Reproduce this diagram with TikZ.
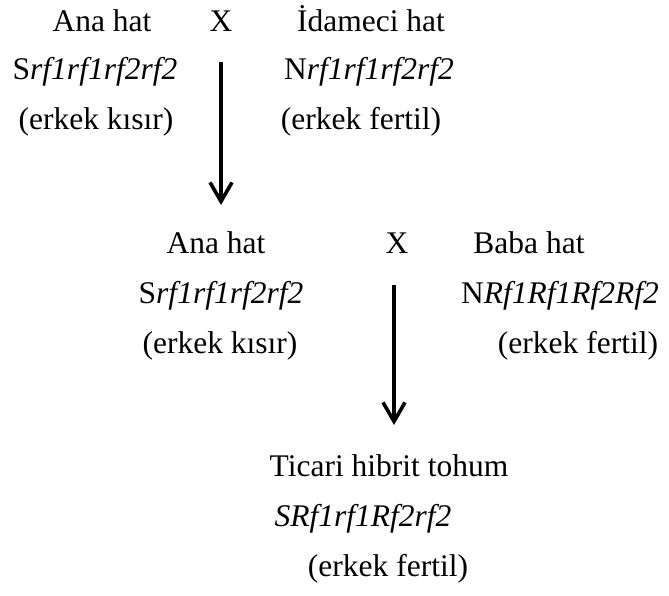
\documentclass[tikz,border=0pt]{standalone}
\usepackage{fontspec}
\setmainfont{Liberation Serif}
\usetikzlibrary{arrows.meta}
\begin{document}
\begin{tikzpicture}[x=1pt,y=-1pt,
  lbl/.style={anchor=base,inner sep=0pt,font=\fontsize{31.5}{34}\selectfont},
  arr/.style={line width=3.6pt,-{Straight Barb[length=19pt,width=22pt,line width=3.6pt]}}]
\useasboundingbox (0,0) rectangle (669,595);
% block 1
\node[lbl] (ana1) at (102,31) {Ana hat};
\node[lbl] (x1) at (221,31) {X};
\node[lbl] (ida) at (371,31) {İdameci hat};
\node[lbl] (g1) at (95,79) {S\textit{rf1rf1rf2rf2}};
\node[lbl] (g2) at (369,79) {N\textit{rf1rf1rf2rf2}};
\node[lbl] (k1) at (96,129) {(erkek kısır)};
\node[lbl] (f1) at (361,129) {(erkek fertil)};
\coordinate (a1s) at (221,62);
\coordinate (a1e) at (221,205);
\draw[arr] (a1s) -- (a1e);
% block 2
\node[lbl] (ana2) at (216,253) {Ana hat};
\node[lbl] (x2) at (397,253) {X};
\node[lbl] (baba) at (529,253) {Baba hat};
\node[lbl] (g3) at (221,303) {S\textit{rf1rf1rf2rf2}};
\node[lbl] (g4) at (560,303) {N\textit{Rf1Rf1Rf2Rf2}};
\node[lbl] (k2) at (220,353) {(erkek kısır)};
\node[lbl] (f2) at (578,353) {(erkek fertil)};
\coordinate (a2s) at (394,285);
\coordinate (a2e) at (394,425);
\draw[arr] (a2s) -- (a2e);
% block 3
\node[lbl] (tic) at (389,476) {Ticari hibrit tohum};
\node[lbl] (g5) at (363,526) {\textit{SRf1rf1Rf2rf2}};
\node[lbl] (f3) at (388,576) {(erkek fertil)};
\end{tikzpicture}
\end{document}
